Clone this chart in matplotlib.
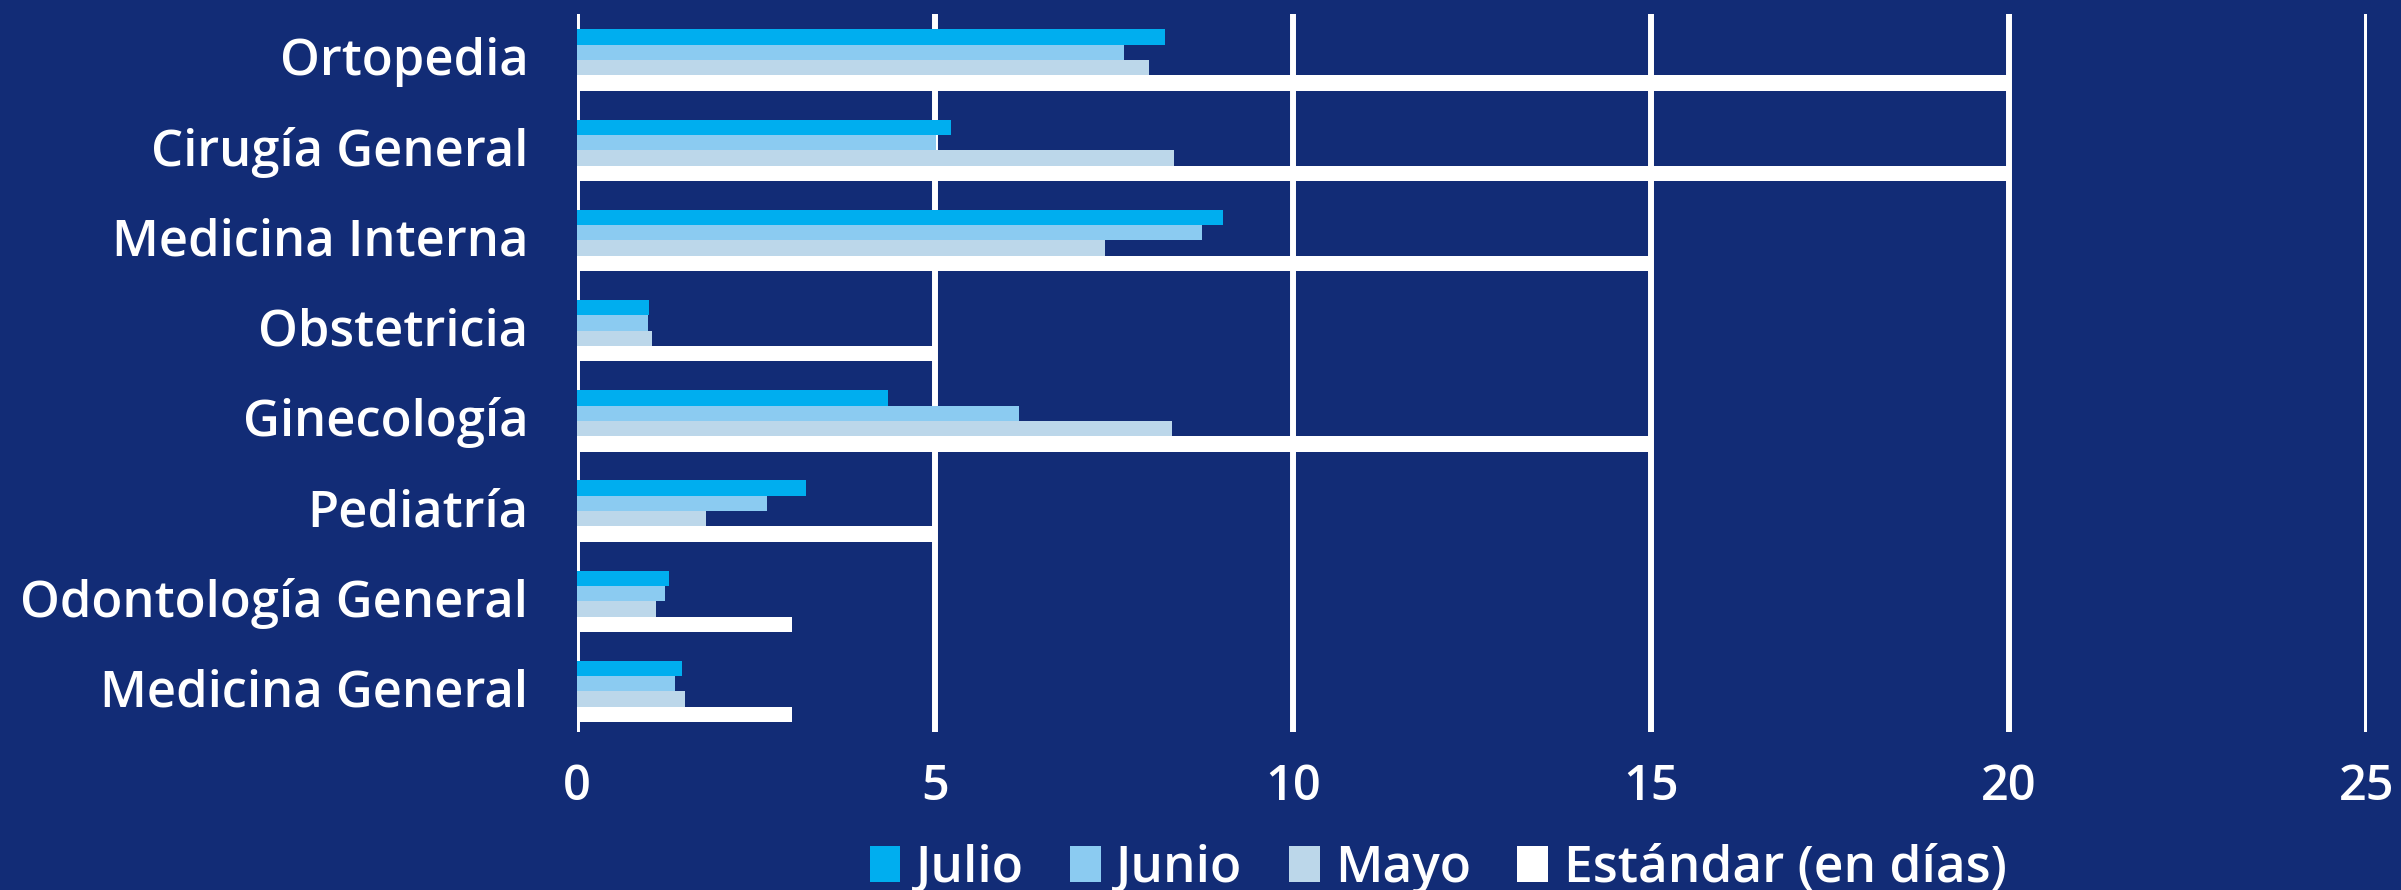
import numpy as np
import matplotlib.pyplot as plt
import matplotlib.transforms as mtransforms

# datos (dias promedio por especialidad)
categorias = ['Ortopedia', 'Cirugía General', 'Medicina Interna', 'Obstetricia',
              'Ginecología', 'Pediatría', 'Odontología General', 'Medicina General']
julio = [8.21, 5.22, 9.02, 1.00, 4.35, 3.20, 1.28, 1.47]
junio = [7.64, 5.01, 8.73, 0.99, 6.17, 2.66, 1.23, 1.37]
mayo = [7.99, 8.34, 7.38, 1.05, 8.31, 1.80, 1.10, 1.51]
estandar = [20, 20, 15, 5, 15, 5, 3, 3]
series = ['Julio', 'Junio', 'Mayo', 'Estándar (en días)']

bg = '#122C76'
colores = ['#00AEEF', '#8BCBF1', '#BCD7EA', '#FFFFFF']

plt.rcParams['font.family'] = ['Open Sans', 'DejaVu Sans']
plt.rcParams['font.weight'] = 'semibold'

fig = plt.figure(figsize=(24.01, 8.9), dpi=100, facecolor=bg)
ax = fig.add_axes([0.2403, 0.1775, 0.7455, 0.8067], facecolor=bg)

y = np.arange(len(categorias))
h = 0.17
valores = [julio, junio, mayo, estandar]
for k, (vals, col, nom) in enumerate(zip(valores, colores, series)):
    ax.barh(y + (k - 1.5) * h, vals, height=h, color=col, label=nom, zorder=3)

ax.set_xlim(0, 25)
ax.set_ylim(7.45, -0.51)
ax.set_xticks(np.arange(0, 26, 5))
ax.set_yticks(y)
ax.set_yticklabels(categorias)
ax.grid(axis='x', color='white', linewidth=4.3, zorder=0)
ax.set_axisbelow(True)
for s in ax.spines.values():
    s.set_visible(False)
ax.tick_params(axis='y', length=0, pad=35, labelsize=36.5, labelcolor='white')
ax.tick_params(axis='x', length=0, pad=22, labelsize=35, labelcolor='white')

# subir un poco las etiquetas de categoria
off = mtransforms.ScaledTranslation(0, 4 / 100, fig.dpi_scale_trans)
for lab in ax.get_yticklabels():
    lab.set_transform(lab.get_transform() + off)

leg = ax.legend(loc='lower center', ncol=4, frameon=False, fontsize=37,
                handlelength=0.6, handleheight=0.7, handletextpad=0.3,
                columnspacing=0.9, borderaxespad=0, borderpad=0)
for t in leg.get_texts():
    t.set_color('white')
# centrar la leyenda en la figura
leg.set_bbox_to_anchor((1438 / 2401, -0.004), transform=fig.transFigure)

fig.savefig('out.png', dpi=100, facecolor=bg)
